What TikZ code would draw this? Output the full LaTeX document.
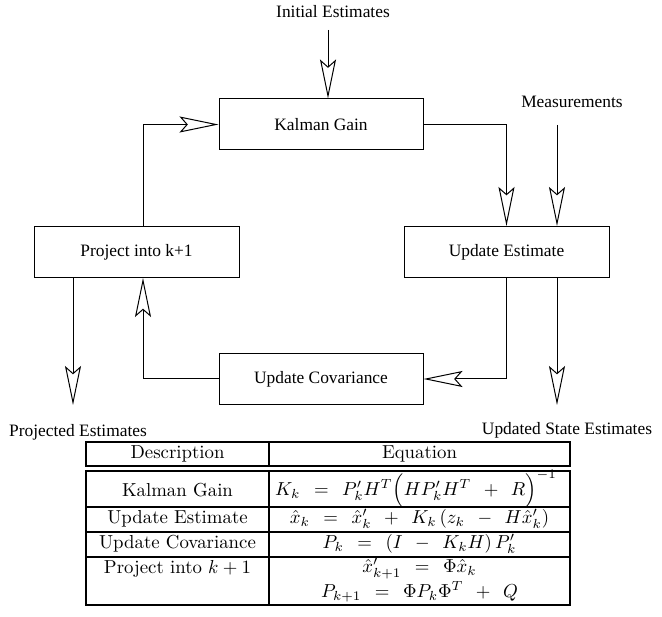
\documentclass[tikz,border=0pt]{standalone}
\usepackage{amsmath, amssymb}
\usepackage{fontspec}
\usetikzlibrary{arrows.meta}
\newfontfamily\lblfont{Liberation Serif}
\newcommand{\lbl}{\lblfont\fontsize{17.4}{20}\selectfont}
\newcommand{\tc}[1]{\scalebox{1.88}{#1}}
\newcommand{\gp}{\;\,}
\tikzset{
  blk/.style={draw, line width=1pt, minimum width=204pt, minimum height=51pt, inner sep=0pt, font=\lbl},
  txt/.style={font=\lbl, inner sep=0pt},
  cell/.style={inner sep=0pt},
  tbl/.style={line width=2pt},
  >={Stealth[open, length=39pt, width=16pt, inset=7pt]}
}

\begin{document}
\begin{tikzpicture}[x=1pt, y=-1pt, line width=1pt]
  \useasboundingbox (0,0) rectangle (662,617);
  % blocks of the loop
  \node[blk] (kal) at (321,124.5) {Kalman Gain};
  \node[blk, minimum width=205pt] (upd) at (506.5,252) {Update Estimate};
  \node[blk, minimum width=205pt] (proj) at (136.5,252) {Project into k+1};
  \node[blk] (cov) at (321,379) {Update Covariance};
  % inputs and outputs
  \node[txt] (init) at (333,12) {Initial Estimates};
  \node[txt] (meas) at (572,102) {Measurements};
  \node[txt] (pest) at (78,432) {Projected Estimates};
  \node[txt] (uest) at (567,430) {Updated State Estimates};
  \coordinate (ie) at (328,30);
  \coordinate (me) at (557,125);
  \coordinate (po) at (73,405);
  \coordinate (uo) at (557,405);
  \draw[->] (ie) -- (ie |- kal.north);
  \draw[->] (kal.east) -| (upd.north);
  \draw[->] (me) -- (me |- upd.north);
  \draw[->] (upd.south) |- (cov.east);
  \draw[->] (uo |- upd.south) -- (uo);
  \draw[->] (cov.west) -| ([xshift=6.5]proj.south);
  \draw[->] ([xshift=6.5]proj.north) |- (kal.west);
  \draw[->] (po |- proj.south) -- (po);
  % table
  \draw[tbl] (86,442) rectangle (570,466);
  \draw[tbl] (86,471) rectangle (570,605);
  \draw[tbl] (269,442) -- (269,466) (269,471) -- (269,605);
  \draw[tbl] (86,507) -- (570,507) (86,532) -- (570,532) (86,557) -- (570,557);
  \node[cell] (hd1) at (177.5,454) {\tc{Description}};
  \node[cell] (hd2) at (419.5,454) {\tc{Equation}};
  \node[cell] (d1) at (177.5,490) {\tc{Kalman Gain}};
  \node[cell] (e1) at (416,489) {\tc{$K_k \gp=\gp P'_k H^T \Bigl(H P'_k H^T \gp+\gp R\Bigr)^{-1}$}};
  \node[cell] (d2) at (177.5,519) {\tc{Update Estimate}};
  \node[cell] (e2) at (419.5,519) {\tc{$\hat{x}_k \gp=\gp \hat{x}'_k \gp+\gp K_k\,(z_k \gp-\gp H\hat{x}'_k)$}};
  \node[cell] (d3) at (177.5,544) {\tc{Update Covariance}};
  \node[cell] (e3) at (419.5,544) {\tc{$P_k \gp=\gp (I \gp-\gp K_k H)\,P'_k$}};
  \node[cell] (d4) at (177.5,569) {\tc{Project into $k+1$}};
  \node[cell] (e4) at (419.5,569) {\tc{$\hat{x}'_{k+1} \gp=\gp \Phi\hat{x}_k$}};
  \node[cell] (e5) at (419.5,592) {\tc{$P_{k+1} \gp=\gp \Phi P_k \Phi^T \gp+\gp Q$}};
\end{tikzpicture}
\end{document}
